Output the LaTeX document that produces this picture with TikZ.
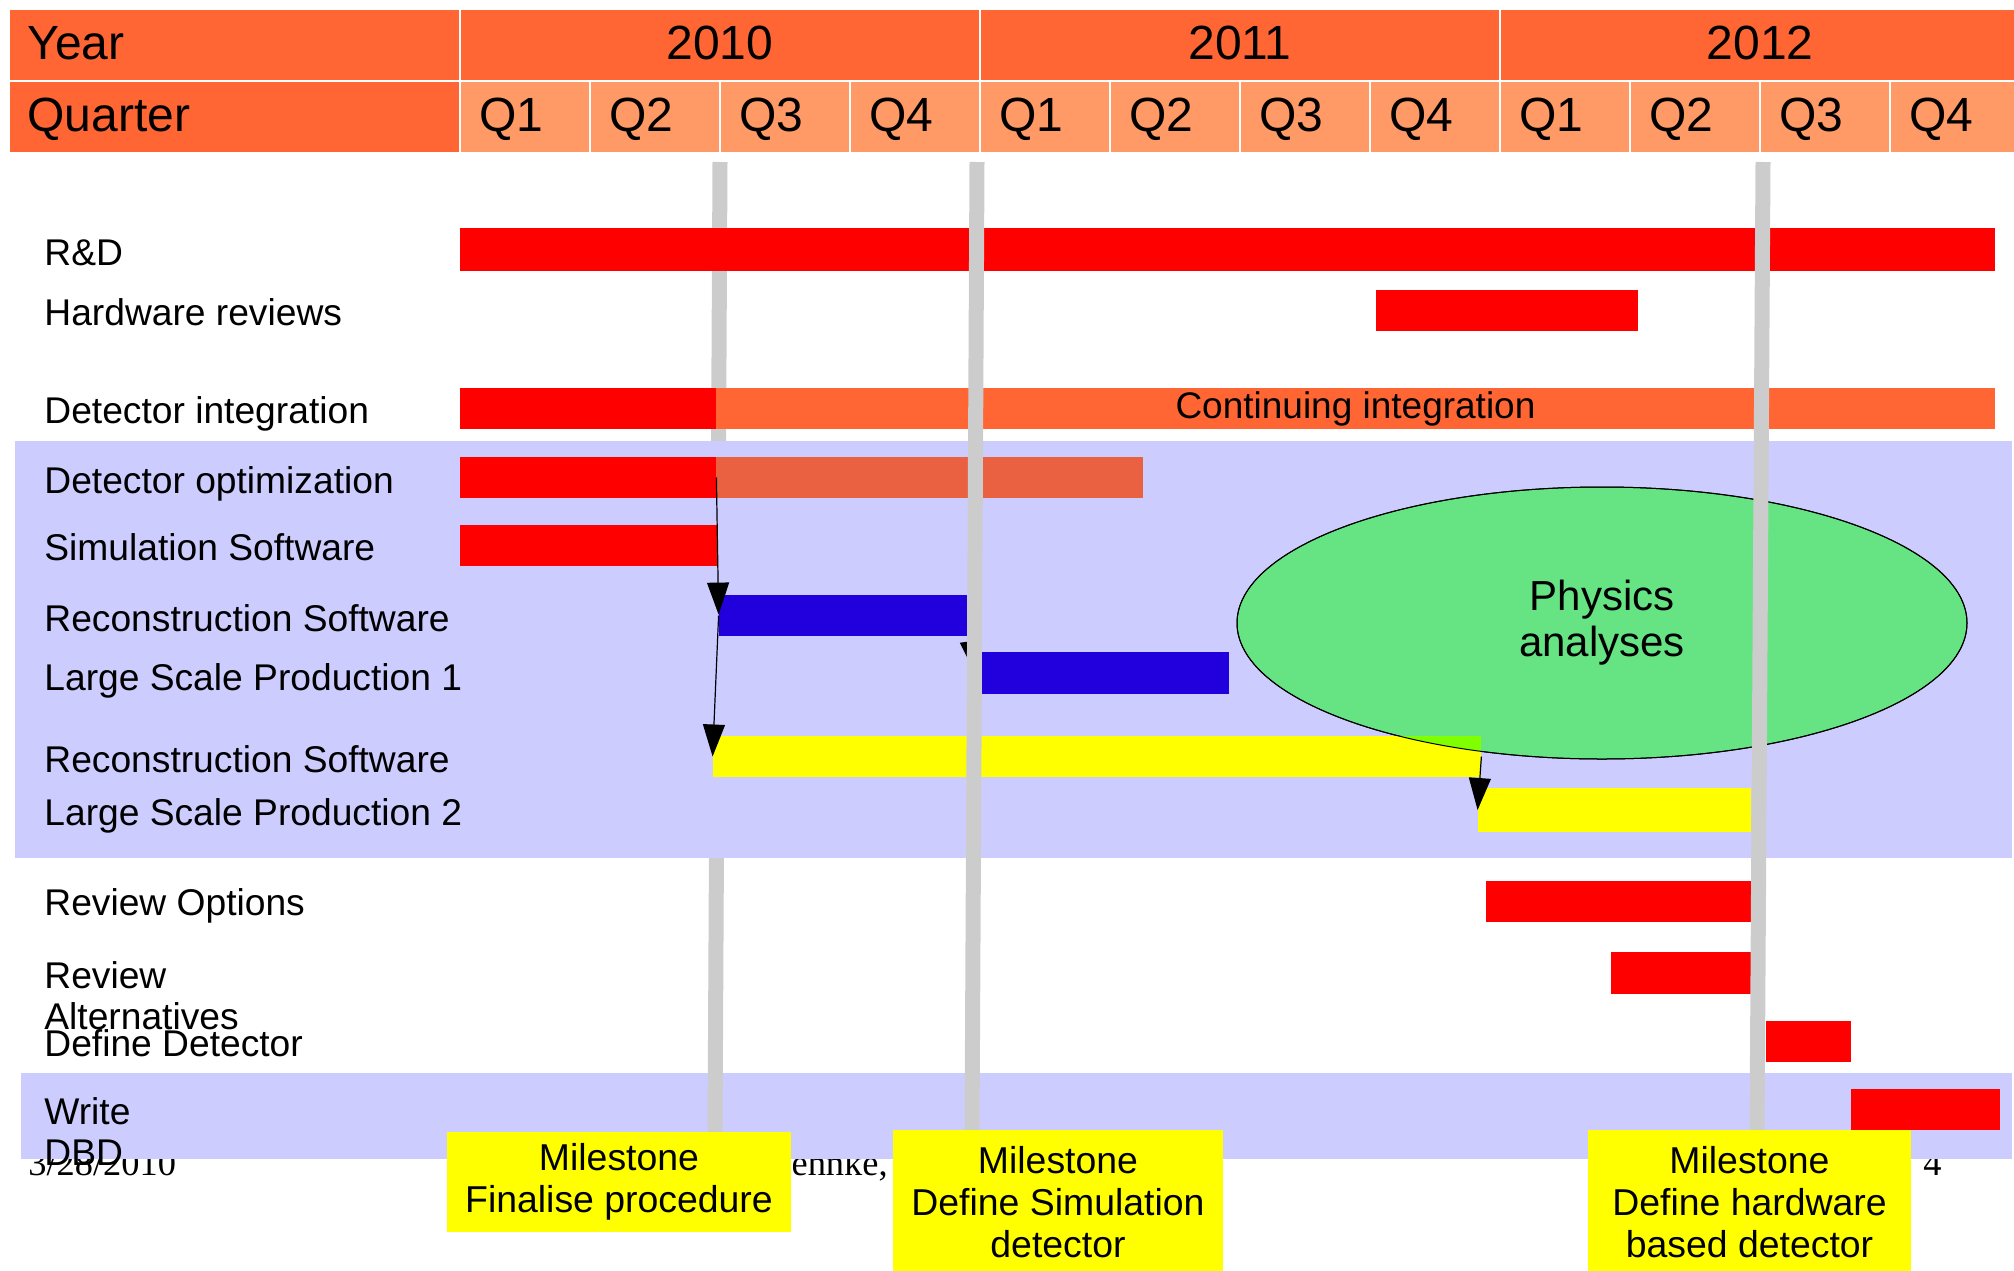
\documentclass[tikz,border=0pt]{standalone}
\usepackage{fontspec}
\setmainfont{Liberation Sans}
\newfontfamily\footfont{Liberation Serif}
\usetikzlibrary{fit,shapes.geometric,arrows.meta}

\definecolor{hdrdark}{HTML}{FF6633}
\definecolor{hdrlight}{HTML}{FF9966}
\definecolor{bandblue}{HTML}{CCCCFF}
\definecolor{barred}{HTML}{FF0000}
\definecolor{barorange}{HTML}{FF6633}
\definecolor{barsalmon}{HTML}{E96141}
\definecolor{barblue}{HTML}{2200DD}
\definecolor{baryellow}{HTML}{FFFF00}
\definecolor{physgreen}{HTML}{66E383}
\definecolor{overlapgreen}{HTML}{80FF00}
\definecolor{msgrey}{HTML}{CCCCCC}

\tikzset{
  hdrcell/.style={draw=white, line width=1pt, inner sep=0pt},
  hdrtext/.style={font=\fontsize{24}{26}\selectfont, anchor=base, inner sep=0pt},
  bar/.style={inner sep=0pt, fill=#1},
  lbl/.style={font=\fontsize{18.6}{20.5}\selectfont, anchor=base west, inner sep=0pt, align=left},
  foot/.style={font=\footfont\fontsize{18.2}{20}\selectfont, inner sep=0pt},
  milestone/.style={fill=baryellow, inner sep=0pt, align=center, font=\fontsize{18.7}{21}\selectfont},
  msline/.style={msgrey, line width=7.5pt},
  dep/.style={-{Triangle[length=16pt,width=11pt]}, line width=0.6pt, black},
}

\begin{document}
\begin{tikzpicture}[x=0.5pt,y=-0.5pt]
\useasboundingbox (0,0) rectangle (2014,1270);

% header rows
\node[hdrcell, fill=hdrdark, fit={(9,9) (460,81)}] (yearcell) {};
\node[hdrtext, anchor=base west] (yeartext) at (27,59) {Year};
\node[hdrcell, fill=hdrdark, fit={(9,81) (460,153)}] (qcell) {};
\node[hdrtext, anchor=base west] (qtext) at (27,131) {Quarter};
\foreach \yr [count=\i from 0] in {2010,2011,2012} {
  \pgfmathsetmacro\xa{460+520*\i}
  \pgfmathsetmacro\xb{980+520*\i}
  \pgfmathsetmacro\xm{720+520*\i}
  \node[hdrcell, fill=hdrdark, fit={(\xa,9) (\xb,81)}] (y\yr) {};
  \node[hdrtext] (ty\yr) at (\xm,59) {\yr};
}
\foreach \q [count=\i from 0] in {1,2,3,4,1,2,3,4,1,2,3,4} {
  \pgfmathsetmacro\xa{460+130*\i}
  \pgfmathsetmacro\xb{590+130*\i}
  \node[hdrcell, fill=hdrlight, fit={(\xa,81) (\xb,153)}] (q\i) {};
  \node[hdrtext, anchor=base west] (tq\i) at (\xa+19,131) {Q\q};
}

% footer line under the chart
\node[foot, anchor=base west] (date) at (28,1175) {3/28/2010};
\node[foot, anchor=base east] (author) at (888,1175) {ehnke,};
\node[foot, anchor=base west] (page) at (1923,1175) {4};

\node[bar=bandblue, fit={(21,1073) (2012,1159)}] (bandtwo) {};

% first milestone line
\coordinate (msatop) at (720,162);
\coordinate (msabot) at (715,1135);
\draw[msline] (msatop) -- (msabot);

% tasks
\node[bar=barred, fit={(460,228) (1995,271)}] (rnd) {};
\node[bar=barred, fit={(1376,290) (1638,331)}] (hwrev) {};
\node[bar=barred, fit={(460,388) (716,429)}] (detint) {};
\node[bar=barorange, fit={(716,388) (1995,429)}] (detintcont) {};
\node[font=\fontsize{18.5}{20}\selectfont, inner sep=0pt] (conttext) at (detintcont.center) {Continuing integration};

\node[bar=bandblue, fit={(15,441) (2012,858)}] (bandone) {};
\node[bar=barred, fit={(460,457) (716,498)}] (detopt) {};
\node[bar=barsalmon, fit={(716,457) (1143,498)}] (detoptcont) {};
\node[bar=barred, fit={(460,525) (718,566)}] (simsw) {};
\node[bar=barblue, fit={(719,595) (967,636)}] (recoone) {};

\coordinate (lspone-in) at (975,673);
\draw[dep] (recoone.east) -- (lspone-in);
\node[bar=barblue, fit={(982,652) (1229,694)}] (lspone) {};

\node[ellipse, fill=physgreen, draw=black, line width=0.5pt, minimum width=365pt, minimum height=136pt,
  inner sep=0pt, align=center, font=\fontsize{21}{23}\selectfont] (physics) at (1602,623) {Physics\\analyses};
\node[bar=baryellow, fit={(713,736) (1481,777)}] (recotwo) {};
\begin{scope}
  \clip (physics.center) ellipse [x radius=365, y radius=136];
  \fill[overlapgreen] (recotwo.north west) rectangle (recotwo.south east);
\end{scope}
\draw[line width=0.5pt] (physics.center) ellipse [x radius=365, y radius=136];
\node[bar=baryellow, fit={(1478,788) (1751,832)}] (lsptwo) {};

\node[bar=barred, fit={(1486,881) (1752,922)}] (revopt) {};
\node[bar=barred, fit={(1611,952) (1752,994)}] (revalt) {};
\node[bar=barred, fit={(1766,1021) (1851,1062)}] (defdet) {};
\node[bar=barred, fit={(1851,1089) (2000,1130)}] (dbd) {};

\draw[dep] (detopt.east) -- ([yshift=-10pt]recoone.north west);
\draw[dep] (recoone.west) -- (recotwo.west);
\draw[dep] (recotwo.east) -- (lsptwo.west);

% task names
\node[lbl] (lrnd) at (44,265) {R\&D};
\node[lbl] (lhwrev) at (44,325) {Hardware reviews};
\node[lbl] (ldetint) at (44,423) {Detector integration};
\node[lbl] (ldetopt) at (44,493) {Detector optimization};
\node[lbl] (lsimsw) at (44,560) {Simulation Software};
\node[lbl] (lrecoone) at (44,631) {Reconstruction Software};
\node[lbl] (llspone) at (44,690) {Large Scale Production 1};
\node[lbl] (lrecotwo) at (44,772) {Reconstruction Software};
\node[lbl] (llsptwo) at (44,825) {Large Scale Production 2};
\node[lbl] (lrevopt) at (44,915) {Review Options};
\node[lbl] (lrevalt) at (44,1029) {Review\\Alternatives};
\node[lbl] (ldefdet) at (44,1056) {Define Detector};
\node[lbl] (ldbd) at (44,1165) {Write\\DBD};

% other milestone lines
\coordinate (msbtop) at (977,162);
\coordinate (msbbot) at (972,1135);
\coordinate (msctop) at (1763,162);
\coordinate (mscbot) at (1757,1135);
\draw[msline] (msbtop) -- (msbbot);
\draw[msline] (msctop) -- (mscbot);

\node[milestone, minimum width=172pt, minimum height=50pt] (msa) at (619,1182) {Milestone\\Finalise procedure};
\node[milestone, minimum width=165pt, minimum height=72pt] (msb) at (1058,1202) {Milestone\\Define Simulation\\detector};
\node[milestone, minimum width=161.5pt, minimum height=72pt] (msc) at (1749.5,1202) {Milestone\\Define hardware\\based detector};
\end{tikzpicture}
\end{document}
